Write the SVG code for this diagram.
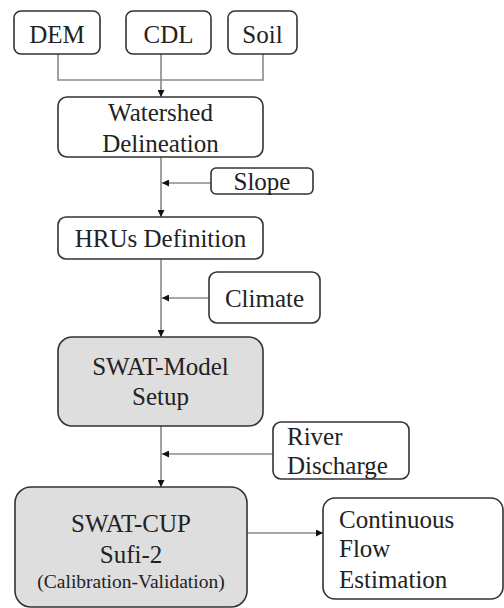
<svg xmlns="http://www.w3.org/2000/svg" width="504" height="608" viewBox="0 0 504 608">
<defs>
<marker id="ah" viewBox="0 0 10 10" refX="10" refY="5" markerWidth="7" markerHeight="7" markerUnits="userSpaceOnUse" orient="auto">
<path d="M0,0 L10,5 L0,10 z" fill="#111"/>
</marker>
<style>
.box{fill:#fff;stroke:#333;stroke-width:1.6}
.gray{fill:#dedede;stroke:#333;stroke-width:1.6}
.t{font-family:'Liberation Serif','Tinos','Times New Roman','DejaVu Serif',serif;font-size:25px;fill:#222}
.c{text-anchor:middle}
.s{font-size:19.5px}
.ln{fill:none;stroke:#8a8a8a;stroke-width:1.6}
</style>
</defs>
<rect width="504" height="608" fill="#fff"/>
<g id="connectors">
<path class="ln" d="M58,54 V80 H263 V54"/>
<path class="ln" d="M161,54 V97" marker-end="url(#ah)"/>
<path class="ln" d="M161,157 V217" marker-end="url(#ah)"/>
<path class="ln" d="M211,183 H162" marker-end="url(#ah)"/>
<path class="ln" d="M161,259 V337" marker-end="url(#ah)"/>
<path class="ln" d="M209,298 H162" marker-end="url(#ah)"/>
<path class="ln" d="M161,426 V487" marker-end="url(#ah)"/>
<path class="ln" d="M273,454 H162" marker-end="url(#ah)"/>
<path class="ln" d="M247,533 H323" marker-end="url(#ah)"/>
</g>
<g id="dem"><rect class="box" x="14" y="11" width="86" height="43" rx="7"/><text class="t c" x="57" y="43" font-family="Liberation Serif, serif">DEM</text></g>
<g id="cdl"><rect class="box" x="126" y="11" width="85" height="43" rx="7"/><text class="t c" x="168.5" y="43">CDL</text></g>
<g id="soil"><rect class="box" x="228" y="11" width="69" height="43" rx="7"/><text class="t c" x="262.5" y="43">Soil</text></g>
<g id="watershed"><rect class="box" x="58" y="97" width="205" height="60" rx="9"/><text class="t c" x="160.5" y="121">Watershed</text><text class="t c" x="160.5" y="152">Delineation</text></g>
<g id="slope"><rect class="box" x="211" y="168" width="102" height="26" rx="5"/><text class="t c" x="262" y="190">Slope</text></g>
<g id="hrus"><rect class="box" x="58" y="217" width="205" height="42" rx="8"/><text class="t c" x="160.5" y="247">HRUs Definition</text></g>
<g id="climate"><rect class="box" x="209" y="272" width="111" height="51" rx="8"/><text class="t c" x="264.5" y="307">Climate</text></g>
<g id="swatmodel"><rect class="gray" x="58" y="337" width="205" height="89" rx="14"/><text class="t c" x="160.5" y="375">SWAT-Model</text><text class="t c" x="160.5" y="405">Setup</text></g>
<g id="river"><rect class="box" x="273" y="422" width="136" height="57" rx="8"/><text class="t" x="287" y="445">River</text><text class="t" x="287" y="474">Discharge</text></g>
<g id="swatcup"><rect class="gray" x="15" y="487" width="232" height="120" rx="16"/><text class="t c" x="131" y="532">SWAT-CUP</text><text class="t c" x="131" y="563">Sufi-2</text><text class="t c s" x="131" y="588">(Calibration-Validation)</text></g>
<g id="flow"><rect class="box" x="323" y="498" width="180" height="101" rx="12"/><text class="t" x="339" y="528">Continuous</text><text class="t" x="339" y="557">Flow</text><text class="t" x="339" y="588">Estimation</text></g>
</svg>
